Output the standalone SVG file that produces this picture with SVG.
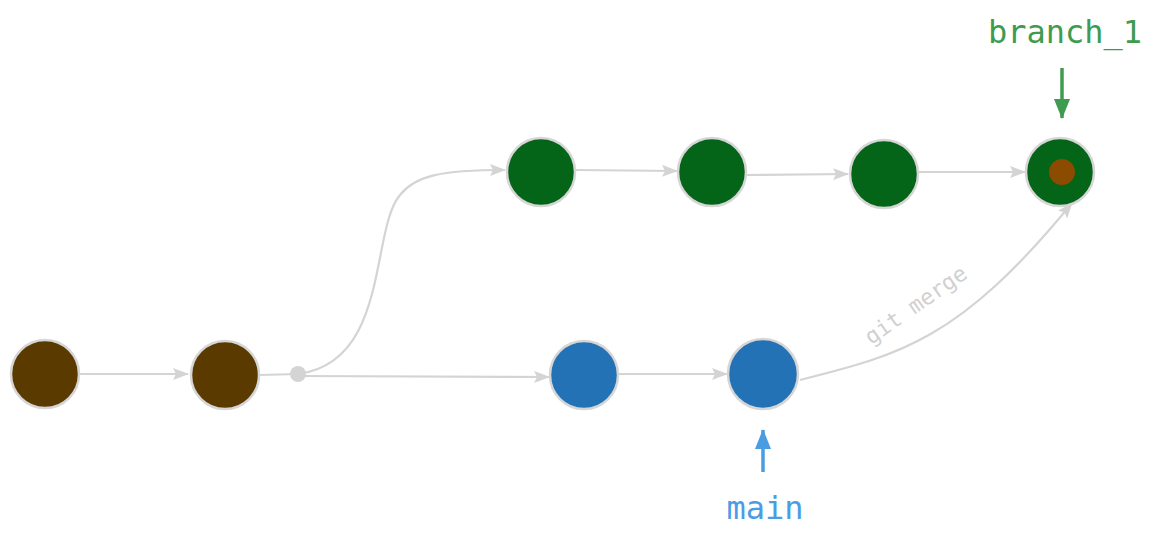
<svg xmlns="http://www.w3.org/2000/svg" width="1156" height="541" viewBox="0 0 1156 541">
<defs>
<style>
.node{stroke:#d6d6d6;stroke-width:2.5}
.brown{fill:#5b3a00}
.green{fill:#046417}
.blue{fill:#2372b5}
.edge{fill:none;stroke:#d4d4d4;stroke-width:2.2}
.lbl{font-family:"DejaVu Sans Mono","Liberation Mono",monospace;font-size:32px}
</style>
<marker id="ah" viewBox="0 0 16 12" refX="15" refY="6" markerWidth="16" markerHeight="12" markerUnits="userSpaceOnUse" orient="auto">
<path d="M0,0 L16,6 L0,12 L3,6 Z" fill="#d4d4d4"/>
</marker>
<marker id="ahg" viewBox="0 0 20 16" refX="19" refY="8" markerWidth="20" markerHeight="16" markerUnits="userSpaceOnUse" orient="auto">
<path d="M0,0 L20,8 L0,16 Z" fill="#3e9b4f"/>
</marker>
<marker id="ahb" viewBox="0 0 20 16" refX="19" refY="8" markerWidth="20" markerHeight="16" markerUnits="userSpaceOnUse" orient="auto">
<path d="M0,0 L20,8 L0,16 Z" fill="#4a9de2"/>
</marker>
</defs>
<rect width="1156" height="541" fill="#ffffff"/>
<g id="connectors">
<path class="edge" d="M79 374 L188 374" marker-end="url(#ah)"/>
<path class="edge" d="M259 375 L298 374"/>
<path class="edge" d="M298 374 C390 362 370 230 400 195 C415 176 440 170 505 170" marker-end="url(#ah)"/>
<path class="edge" d="M298 376 L549 377" marker-end="url(#ah)"/>
<path class="edge" d="M618 374 L727 374" marker-end="url(#ah)"/>
<path class="edge" d="M575 170 L677 171" marker-end="url(#ah)"/>
<path class="edge" d="M746 175 L848 174" marker-end="url(#ah)"/>
<path class="edge" d="M918 172 L1025 172" marker-end="url(#ah)"/>
<path class="edge" d="M800 380 C900 355 960 340 1072 203" marker-end="url(#ah)"/>
<text x="0" y="0" transform="translate(920,311) rotate(-35)" text-anchor="middle" font-family="DejaVu Sans Mono, Liberation Mono, monospace" font-size="22" fill="#d0d0d0">git merge</text>
<path d="M1062 68 L1062 118" stroke="#3e9b4f" stroke-width="3.5" marker-end="url(#ahg)"/>
<path d="M763 472 L763 430" stroke="#4a9de2" stroke-width="3.5" marker-end="url(#ahb)"/>
</g>
<g id="junction"><circle cx="298" cy="374" r="8" fill="#d4d4d4"/></g>
<g id="commit-a"><circle class="node brown" cx="45" cy="374" r="34"/></g>
<g id="commit-b"><circle class="node brown" cx="225" cy="375" r="34"/></g>
<g id="commit-g1"><circle class="node green" cx="541" cy="172" r="34"/></g>
<g id="commit-g2"><circle class="node green" cx="712" cy="172" r="34"/></g>
<g id="commit-g3"><circle class="node green" cx="884" cy="174" r="34"/></g>
<g id="commit-g4"><circle class="node green" cx="1060" cy="172" r="34"/><circle cx="1062" cy="172" r="13" fill="#8b4b00"/></g>
<g id="commit-m1"><circle class="node blue" cx="584" cy="375" r="34"/></g>
<g id="commit-m2"><circle class="node blue" cx="763" cy="374" r="35"/></g>
<g id="label-branch"><text class="lbl" x="1065" y="43" text-anchor="middle" fill="#3e9b4f">branch_1</text></g>
<g id="label-main"><text class="lbl" x="765" y="519" text-anchor="middle" fill="#4a9de2">main</text></g>
</svg>
